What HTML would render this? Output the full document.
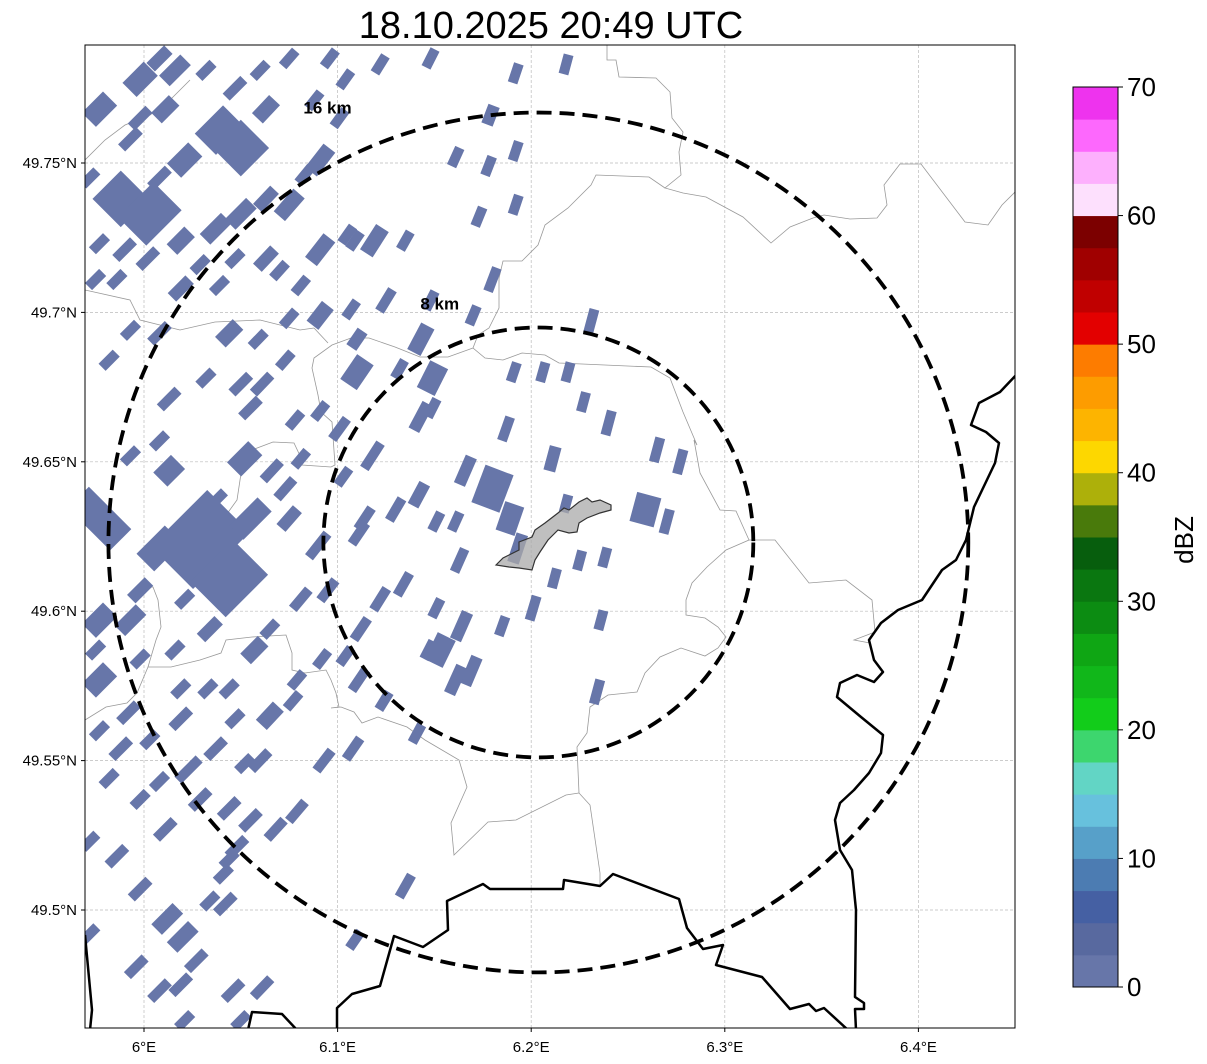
<!DOCTYPE html>
<html><head><meta charset="utf-8"><style>
html,body{margin:0;padding:0;background:#fff;}
svg{display:block;font-family:"Liberation Sans","DejaVu Sans",sans-serif;}
</style></head><body>
<svg id="chart" width="1207" height="1064" viewBox="0 0 1207 1064" xmlns="http://www.w3.org/2000/svg">
<text x="551" y="38" font-size="38" text-anchor="middle" fill="#000">18.10.2025 20:49 UTC</text>
<defs><clipPath id="mapclip"><rect x="85" y="45" width="930" height="983"/></clipPath></defs>
<rect x="85" y="45" width="930" height="983" fill="#fff"/>
<g id="grid"></g>
<g id="map" clip-path="url(#mapclip)">
<g fill="none" stroke="#999" stroke-width="0.8">
<polyline points="607,45 607,60 616,60 619,77 656,78 670,92 672,118 683,132 679,152 681,175 665,188 683,193 706,197 743,217 771,243 790,227 813,218 824,215 850,219 877,218 887,205 884,185 900,164 921,164 965,222 988,225 1002,205 1015,192"/>
<polyline points="665,188 649,177 596,175 591,185 568,208 545,225 538,245 522,261 503,261 499,278 499,308 489,328 478,335 473,348 485,358 503,360 522,353 545,355 559,363 582,364 651,367 670,378 683,412 697,445 694,440 700,473 720,510 736,511 749,540 726,550 707,567 692,583 686,600 686,615 705,618 718,627 726,637 718,648 705,656 681,648 660,657 645,673 637,692 608,695 590,707 587,733 577,747 579,793 590,805 600,873 600,885"/>
<polyline points="579,793 566,795 516,820 488,822 454,855 451,823 467,787 459,760 425,740 407,727 378,717 362,723 354,712 341,707 331,708 339,707 336,693 331,680 326,670 305,673 292,670 292,653 286,635 252,637 226,640 221,653 200,660 171,667 148,667 156,640 161,627 158,600 153,587 140,587"/>
<polyline points="148,667 137,693 127,703 106,707 85,720"/>
<polyline points="749,540 775,540 809,583 846,580 872,600 875,632 854,640 870,643"/>
<polyline points="473,348 448,357 420,357 395,347 369,338 351,338 332,345 314,358 312,368 318,395 321,412 332,422 335,465 331,467 302,465 302,460 294,443 273,442 252,450 242,467 237,500 224,518 230,540 240,560"/>
<polyline points="314,328 328,343"/>
<polyline points="85,290 130,300 140,320 180,330 215,322 260,320 300,330 314,328"/>
<polyline points="85,160 105,140 125,125 150,115 170,100 190,80"/>
</g>
<g id="cells"></g>
<polygon points="496,565 503,558 519,550 519,542 532,537 535,530 545,523 558,513 564,508 569,510 579,502 587,498 592,502 600,500 611,505 611,510 600,513 587,518 579,523 577,532 569,533 558,530 548,540 540,552 535,560 532,570 519,568 509,567" fill="#aaa" fill-opacity="0.75" stroke="#333" stroke-width="1.2"/>
<g fill="none" stroke="#000" stroke-width="2.5" stroke-linejoin="round">
<polyline points="1018,373 1000,392 979,403 971,425 986,432 999,443 995,463 974,507 966,540 956,560 942,570 922,600 898,610 881,623 869,640 874,660 883,672 874,682 857,675 840,683 837,697 861,717 883,735 881,753 869,773 854,790 840,803 835,820 840,850 852,870 856,910 855,997 864,1003 864,1009 855,1009 856,1030"/>
<polyline points="337,1030 337,1008 352,994 380,986 394,936 423,947 448,930 447,901 483,884 490,889 563,889 564,880 600,886 613,874 679,899 687,928 703,949 723,945 716,965 762,977 790,1009 809,1004 816,1011 824,1008 848,1030"/>
<polyline points="248,1030 252,1012 282,1014 297,1030"/>
<polyline points="85,935 92,1010 90,1030"/>
</g>
<g id="rings"></g>
</g>
<rect x="85" y="45" width="930" height="983" fill="none" stroke="#000" stroke-width="1"/>
<g id="axes"></g>
<g id="cbar"></g>
<text x="1193" y="540" font-size="26" text-anchor="middle" transform="rotate(-90 1193 540)">dBZ</text>
</svg>
<script>
// ---- data ----
const lonTicks = [6.0, 6.1, 6.2, 6.3, 6.4];
const lonTickLabels = ["6°E", "6.1°E", "6.2°E", "6.3°E", "6.4°E"];
const latTicks = [49.75, 49.7, 49.65, 49.6, 49.55, 49.5];
const latTickLabels = ["49.75°N", "49.7°N", "49.65°N", "49.6°N", "49.55°N", "49.5°N"];
const radarLon = 6.2037;
const radarLat = 49.623;
const ringKm = [8, 16];
const ringLabels = ["8 km", "16 km"];
const cbarTicks = [0, 10, 20, 30, 40, 50, 60, 70];
const cbarLevels = [0,2.5,5,7.5,10,12.5,15,17.5,20,22.5,25,27.5,30,32.5,35,37.5,40,42.5,45,47.5,50,52.5,55,57.5,60,62.5,65,67.5,70];
const cbarColors = ["#6776a9","#58699f","#4560a3","#4c7cb2","#57a0c9","#67c1dd","#62d5c5","#3dd66e","#12cc1a","#11b71a","#0fa614","#0c8c12","#0a7710","#075e0d","#497a0b","#adb00a","#fdd700","#fdb400","#fd9c00","#fd7c00","#e30000","#c00000","#a00000","#7c0000","#fde0fd","#fdb0fd","#fd68fd","#ee33ee"];
const cellLon = [6.166,6.180,6.189,6.187,6.211,6.218,6.227,6.240,6.265,6.277,6.259,6.270,6.206,6.219,6.191,6.231,6.180,6.170,6.149,6.143,6.118,6.142,6.130,6.114,6.161,6.151,6.193,6.163,6.134,6.151,6.164,6.185,6.201,6.212,6.225,6.238,6.236,6.169,6.153,6.161,6.141,6.147,6.122,6.112,6.104,6.111,6.124,6.234,6.110,6.110,6.091,6.101,6.103,6.111,6.090,6.095,6.081,6.092,6.079,6.093,6.108,6.135,6.079,6.068,6.055,6.048,6.041,6.042,6.012,6.020,6.027,5.996,6.046,6.061,6.019,5.998,5.986,5.998,6.008,6.023,6.037,6.052,6.065,6.077,6.044,6.033,6.019,5.992,5.988,5.977,5.977,5.977,5.998,6.008,6.029,6.044,6.055,6.075,6.073,6.081,6.066,6.052,6.037,6.013,6.008,5.993,5.977,6.055,6.078,6.061,6.073,6.050,6.032,6.013,5.982,5.993,6.008,6.044,6.059,6.075,6.091,6.107,6.125,6.081,6.070,6.063,6.047,6.039,6.019,6.002,5.990,5.977,5.975,5.988,6.003,6.019,6.037,6.050,6.063,6.075,6.091,6.083,6.050,6.063,6.047,6.039,6.021,6.008,5.993,5.977,5.972,5.998,6.008,6.032,6.016,6.060,6.075,6.096,6.088,6.101,6.011,5.998,6.104,6.119,6.109,6.135,6.148,6.161,6.178,6.192,6.179,6.192,6.218,6.148,6.122,6.173,6.192,6.143,6.132,6.149,6.091,6.105,6.029,5.986,5.975,5.982,5.972,5.993,5.998,6.016,6.057,6.065,6.034,6.021,6.019,6.047,6.003,6.060,6.029,6.044,6.011,6.044,6.034,6.008,6.050,6.021,5.972,6.109];
const cellLat = [49.647,49.641,49.631,49.661,49.651,49.636,49.670,49.663,49.654,49.650,49.634,49.630,49.680,49.680,49.680,49.697,49.711,49.699,49.678,49.665,49.652,49.639,49.634,49.631,49.630,49.630,49.621,49.617,49.609,49.601,49.595,49.595,49.601,49.611,49.617,49.618,49.597,49.580,49.587,49.577,49.559,49.587,49.604,49.594,49.585,49.577,49.570,49.573,49.680,49.691,49.667,49.661,49.645,49.626,49.622,49.607,49.604,49.584,49.577,49.550,49.554,49.508,49.533,49.527,49.530,49.521,49.512,49.502,49.497,49.491,49.483,49.481,49.473,49.474,49.475,49.507,49.518,49.537,49.543,49.547,49.554,49.549,49.565,49.570,49.574,49.574,49.564,49.566,49.554,49.560,49.577,49.597,49.607,49.621,49.624,49.611,49.631,49.631,49.641,49.651,49.647,49.651,49.637,49.647,49.657,49.652,49.631,49.668,49.664,49.676,49.684,49.676,49.678,49.671,49.684,49.694,49.693,49.693,49.691,49.698,49.699,49.701,49.704,49.709,49.714,49.718,49.718,49.709,49.708,49.718,49.721,49.723,49.711,49.738,49.733,49.724,49.728,49.733,49.738,49.736,49.751,49.746,49.755,49.768,49.775,49.761,49.751,49.745,49.758,49.768,49.745,49.778,49.785,49.781,49.781,49.781,49.785,49.785,49.771,49.765,49.768,49.765,49.778,49.724,49.724,49.724,49.704,49.752,49.749,49.754,49.766,49.780,49.783,49.785,49.783,49.732,49.736,49.691,49.681,49.668,49.721,49.726,49.716,49.711,49.587,49.544,49.523,49.597,49.584,49.587,49.587,49.594,49.594,49.604,49.574,49.564,49.557,49.550,49.537,49.534,49.527,49.517,49.503,49.473,49.463,49.463,49.492,49.490];
const cellLen = [30,40,30,25,25,18,20,25,25,25,30,25,20,20,20,25,25,20,30,30,30,25,25,25,20,20,30,25,25,20,30,20,25,20,20,20,20,30,30,30,20,20,25,25,20,25,20,25,30,20,20,25,20,25,30,25,25,20,20,25,25,25,25,25,25,25,20,25,30,30,25,25,25,25,25,25,25,20,20,30,25,20,25,20,20,20,25,25,25,20,30,30,25,40,80,60,40,25,25,20,25,30,25,25,20,20,30,25,20,25,20,25,20,25,20,20,25,25,20,20,25,20,25,20,20,25,20,20,25,25,25,20,20,40,50,25,30,30,25,30,30,20,40,25,25,40,30,25,25,30,20,30,25,20,30,20,20,20,20,20,25,25,20,30,20,20,20,20,20,20,20,20,20,20,20,20,20,30,20,20,30,20,20,20,20,20,20,30,20,20,25,20,25,20,20,20,20,25,25,25,25,20,20,25,20,20,20,20];
const cellWid = [12,30,20,10,12,10,10,10,10,10,25,10,10,10,10,10,10,10,20,12,10,12,10,10,10,10,12,10,10,10,12,10,10,10,10,10,10,12,20,12,10,10,10,10,10,10,10,10,20,12,10,10,10,10,10,10,10,10,10,10,10,10,10,10,10,10,10,10,15,15,10,10,10,10,10,10,10,10,10,10,10,10,15,10,10,10,10,10,10,10,20,20,12,25,60,50,20,12,10,10,10,20,10,20,10,10,60,10,10,10,10,10,10,10,10,10,10,15,10,10,15,10,10,10,10,12,10,10,12,10,10,10,10,40,40,15,15,15,12,15,15,10,40,15,10,30,20,10,10,20,10,20,12,10,15,10,10,10,10,10,15,10,10,15,10,10,10,10,10,10,12,10,10,10,10,10,10,15,10,10,15,10,10,10,10,10,10,15,10,10,15,10,12,10,10,10,10,10,10,10,10,10,10,10,10,10,10,10];

// ---- axis functions ----
const X = lon => 144 + (lon - 6.0) * 1936;
const Y = lat => 910 - (lat - 49.5) * 2988;
const kmToPx = km => km / 111.2 * 2988;
const NS = "http://www.w3.org/2000/svg";
function mk(tag, attrs, parent) {
  const e = document.createElementNS(NS, tag);
  for (const k in attrs) e.setAttribute(k, attrs[k]);
  parent.appendChild(e);
  return e;
}

const grid = document.getElementById("grid");
lonTicks.forEach(v => {
  const l = mk("line", {x1: X(v), x2: X(v), y1: 45, y2: 1028, stroke: "#bbb", "stroke-width": 0.7, "stroke-dasharray": "3 2"}, grid);
  
  
});
latTicks.forEach(v => {
  const l = mk("line", {x1: 85, x2: 1015, y1: Y(v), y2: Y(v), stroke: "#bbb", "stroke-width": 0.7, "stroke-dasharray": "3 2"}, grid);
  
  
});

const cells = document.getElementById("cells");
for (let i = 0; i < cellLon.length; i++) {
  const cx = X(cellLon[i]), cy = Y(cellLat[i]);
  const L = cellLen[i], W = cellWid[i];
  const ang = 45 + Math.max(0, Math.min(30, (cx - 250) * 0.1));
  const r = mk("rect", {x: cx - L / 2, y: cy - W / 2, width: L, height: W, fill: cbarColors[0],
    transform: `rotate(${-ang} ${cx} ${cy})`}, cells);
  
  
}

const rings = document.getElementById("rings");
const rcx = X(radarLon), rcy = Y(radarLat);
const ringLabelDx = [-118, -235];
const ringLabelDy = [-18, 1];
ringKm.forEach((km, i) => {
  const rr = kmToPx(km);
  const c = mk("circle", {cx: rcx, cy: rcy, r: rr, fill: "none", stroke: "#000", "stroke-width": 3.8, "stroke-dasharray": "15 8"}, rings);
  
  
  const t = mk("text", {x: rcx + ringLabelDx[i], y: rcy - rr + ringLabelDy[i], "font-size": 17, "font-weight": "bold"}, rings);
  t.textContent = ringLabels[i];
  
  
});

const axes = document.getElementById("axes");
lonTicks.forEach((v, i) => {
  mk("line", {x1: X(v), x2: X(v), y1: 1028, y2: 1032, stroke: "#000"}, axes);
  const t = mk("text", {x: X(v), y: 1052, "font-size": 15, "text-anchor": "middle"}, axes);
  t.textContent = lonTickLabels[i];
  
  
});
latTicks.forEach((v, i) => {
  mk("line", {x1: 81, x2: 85, y1: Y(v), y2: Y(v), stroke: "#000"}, axes);
  const t = mk("text", {x: 77, y: Y(v) + 5, "font-size": 15, "text-anchor": "end"}, axes);
  t.textContent = latTickLabels[i];
  
  
});

const cbar = document.getElementById("cbar");
const cbX = 1073, cbW = 45, cbTop = 87, cbBot = 987;
const CY = v => cbBot - (v - 0) / 70 * (cbBot - cbTop);
for (let i = 0; i < cbarColors.length; i++) {
  const y1 = CY(cbarLevels[i + 1]), y0 = CY(cbarLevels[i]);
  const r = mk("rect", {x: cbX, y: y1, width: cbW, height: y0 - y1 + 0.5, fill: cbarColors[i]}, cbar);
  
  
}
mk("rect", {x: cbX, y: cbTop, width: cbW, height: cbBot - cbTop, fill: "none", stroke: "#000", "stroke-width": 1}, cbar);
cbarTicks.forEach(v => {
  mk("line", {x1: cbX + cbW, x2: cbX + cbW + 5, y1: CY(v), y2: CY(v), stroke: "#000"}, cbar);
  const t = mk("text", {x: 1127, y: CY(v) + 9, "font-size": 26}, cbar);
  t.textContent = v;
  
  
});
</script>
</body></html>
